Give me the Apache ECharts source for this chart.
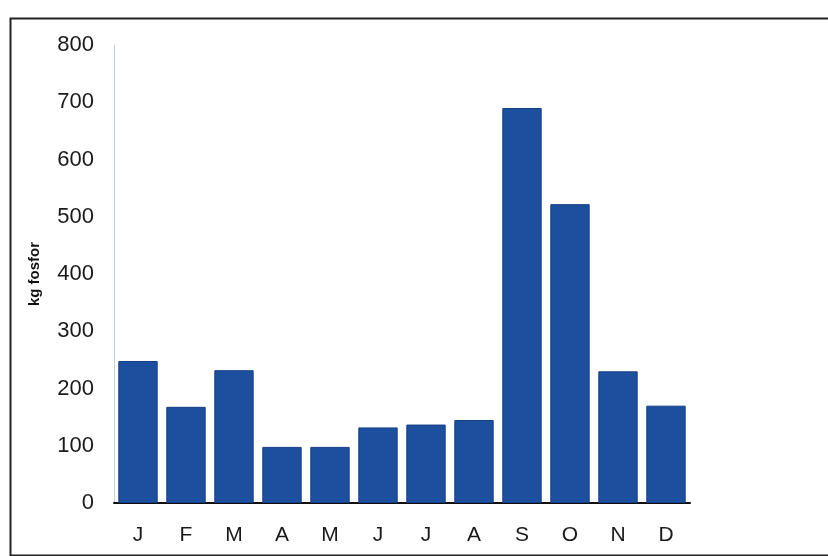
<!DOCTYPE html>
<html><head><meta charset="utf-8">
<script src="https://cdn.jsdelivr.net/npm/echarts@6/dist/echarts.min.js"></script>
<style>html,body{margin:0;padding:0;background:#fff}#c{width:828px;height:556px}</style>
</head><body><div id="c"></div>
<script>
const categories = ['J','F','M','A','M','J','J','A','S','O','N','D'];
const values = [248, 168, 232, 98, 98, 132, 137, 145, 690, 522, 230, 170];
const yTicks = [0, 100, 200, 300, 400, 500, 600, 700, 800];
const yName = 'kg fosfor';

const chart = echarts.init(document.getElementById('c'), null, {renderer: 'canvas'});
chart.setOption({
  animation: false,
  backgroundColor: '#fff',
  graphic: [{
    type: 'rect', left: 8, top: 16,
    shape: {width: 830, height: 537},
    style: {fill: 'none', stroke: '#222', lineWidth: 2}, silent: true
  }],
  grid: {left: 114, right: 138, top: 45, bottom: 53, containLabel: false},
  xAxis: {
    type: 'category', data: categories,
    axisLine: {lineStyle: {color: '#111', width: 2}},
    axisTick: {show: false},
    axisLabel: {color: '#1a1a1a', fontSize: 21, fontFamily: 'Liberation Sans, Arial, sans-serif', margin: 22}
  },
  yAxis: {
    type: 'value', min: yTicks[0], max: yTicks[yTicks.length-1], interval: 100,
    name: yName, nameLocation: 'middle', nameGap: 72,
    nameTextStyle: {fontSize: 15, fontWeight: 'bold', color: '#111', fontFamily: 'Liberation Sans, Arial, sans-serif'},
    axisLine: {show: true, lineStyle: {color: '#c8d0dc', width: 1}},
    axisTick: {show: false},
    splitLine: {show: false},
    axisLabel: {color: '#1a1a1a', fontSize: 22, fontFamily: 'Liberation Sans, Arial, sans-serif', margin: 20}
  },
  series: [{
    type: 'bar', data: values, barCategoryGap: '18%',
    itemStyle: {color: '#1d4f9f', borderColor: '#163f82', borderWidth: 1}
  }]
});
</script></body></html>
